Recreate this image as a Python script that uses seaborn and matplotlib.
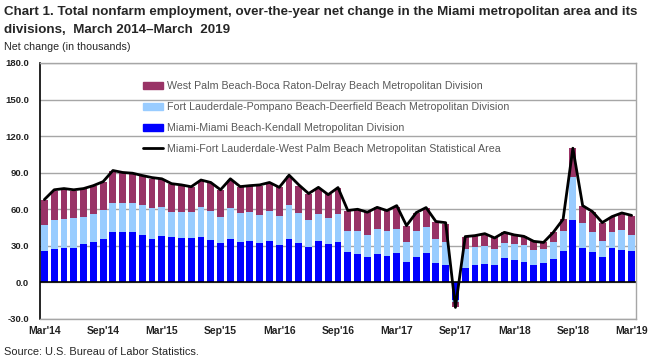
import numpy as np
import pandas as pd
import matplotlib
matplotlib.use("Agg")
import matplotlib.pyplot as plt
import seaborn as sns
from matplotlib import font_manager
from matplotlib.patches import Patch
from matplotlib.lines import Line2D

months = pd.date_range("2014-03-01", "2019-03-01", freq="MS")
tick_labels = ["Mar'14", "Sep'14", "Mar'15", "Sep'15", "Mar'16", "Sep'16",
               "Mar'17", "Sep'17", "Mar'18", "Sep'18", "Mar'19"]

miami = [25.5, 27.7, 28.5, 28.5, 31.8, 33.4, 35.9, 41.6, 41.6, 41.6, 39.2,
         35.9, 38.4, 37.6, 36.7, 36.7, 37.6, 35.1, 32.6, 35.9, 33.4, 34.2,
         32.6, 34.2, 31.0, 35.9, 32.6, 29.3, 34.2, 31.8, 33.4, 25.2, 23.6,
         21.1, 23.6, 21.9, 24.4, 17.0, 21.1, 24.4, 16.2, 14.6, -14.5, 12.1,
         14.0, 15.4, 14.0, 19.8, 18.1, 16.4, 14.6, 15.6, 18.9, 25.5, 51.0,
         28.5, 25.2, 21.1, 28.5, 26.9, 26.0]
ftl = [21.9, 23.8, 23.8, 24.7, 22.2, 23.1, 23.9, 23.9, 23.9, 23.9, 24.7,
       25.5, 23.8, 20.5, 21.4, 21.4, 24.6, 23.8, 21.4, 25.5, 23.9, 23.9,
       23.0, 24.7, 23.8, 28.0, 24.7, 22.2, 22.3, 21.4, 23.1, 17.3, 18.9,
       18.1, 20.5, 20.6, 19.7, 16.4, 21.4, 21.4, 19.7, 18.8, -1.5, 15.6,
       14.8, 14.7, 13.2, 12.3, 13.1, 14.0, 11.7, 11.6, 14.0, 16.4, 35.3,
       20.6, 16.5, 13.1, 13.2, 16.4, 13.2]
wpb = [20.6, 23.8, 24.7, 22.1, 23.0, 22.9, 22.9, 26.3, 24.7, 24.1, 23.8,
       23.6, 22.8, 22.7, 21.3, 20.5, 21.4, 23.0, 22.1, 23.0, 21.3, 21.3,
       23.8, 22.5, 23.2, 23.8, 22.1, 21.4, 20.5, 19.7, 21.3, 16.4, 17.3,
       18.9, 17.5, 16.4, 18.1, 13.2, 14.8, 15.6, 14.0, 14.8, -4.5, 9.9,
       9.6, 9.6, 9.8, 9.0, 8.0, 7.4, 7.4, 5.7, 8.2, 9.9, 23.8,
       13.9, 16.4, 14.9, 12.3, 13.2, 15.6]
total = [68.0, 76.0, 77.0, 76.0, 77.0, 79.4, 82.7, 91.8, 90.2, 89.6, 87.7,
         86.0, 85.0, 81.0, 80.0, 78.5, 84.0, 82.0, 76.0, 85.0, 78.6, 79.4,
         80.0, 82.0, 78.0, 88.0, 80.0, 72.9, 78.0, 72.0, 77.8, 59.0, 60.0,
         57.6, 61.6, 58.9, 63.0, 46.6, 57.3, 61.4, 50.0, 49.0, -20.5, 37.6,
         38.4, 40.0, 36.5, 41.1, 39.0, 37.8, 33.7, 32.8, 41.1, 51.8, 110.1,
         63.0, 58.1, 49.1, 54.0, 57.0, 55.0]

names = ["Miami-Miami Beach-Kendall Metropolitan Division",
         "Fort Lauderdale-Pompano Beach-Deerfield Beach Metropolitan Division",
         "West Palm Beach-Boca Raton-Delray Beach Metropolitan Division",
         "Miami-Fort Lauderdale-West Palm Beach Metropolitan Statistical Area"]
colors = ["#0000FF", "#99CCFF", "#993366"]

sns.set_style("white")
avail = {f.name for f in font_manager.fontManager.ttflist}
narrow = "Liberation Sans Narrow" in avail
fam = ["Liberation Sans Narrow", "DejaVu Sans"] if narrow else ["Liberation Sans", "DejaVu Sans"]
plt.rcParams["font.family"] = fam
scale = 1.0 if narrow else 0.85

fig = plt.figure(figsize=(6.57, 3.61), dpi=100)
ax = fig.add_axes([40/657, 1-319/361, 596/657, 256/361])

n = len(months)
idx = np.arange(n)
series = [np.array(miami), np.array(ftl), np.array(wpb)]
pos_base = np.zeros(n)
neg_base = np.zeros(n)
for vals, c in zip(series, colors):
    bottoms = np.where(vals >= 0, pos_base, neg_base)
    df = pd.DataFrame({"i": idx, "v": vals})
    sns.barplot(data=df, x="i", y="v", color=c, saturation=1, width=0.7,
                bottom=bottoms, ax=ax, linewidth=0, legend=False)
    pos_base = pos_base + np.where(vals >= 0, vals, 0)
    neg_base = neg_base + np.where(vals < 0, vals, 0)

sns.lineplot(x=idx, y=total, color="black", linewidth=2, ax=ax, legend=False)

ax.set_xlim(-0.45, n - 0.55)
ax.set_ylim(-30, 180)
ax.set_yticks(np.arange(-30, 181, 30))
ax.set_yticklabels([f"{v:.1f}" for v in np.arange(-30, 181, 30)],
                   fontsize=8*scale, fontweight="bold", color="#222222")
ax.set_xticks(idx[::6])
ax.set_xticklabels(tick_labels, fontsize=8.8*scale, fontweight="bold", color="#222222")
ax.tick_params(axis="y", length=0, pad=8)
ax.tick_params(axis="x", length=0, pad=5)
ax.set_xlabel("")
ax.set_ylabel("")
ax.grid(axis="y", color="#A6A6A6", linewidth=1)
ax.set_axisbelow(True)
ax.axhline(0, color="black", linewidth=1.2, zorder=1.5)
for s in ["top", "right", "bottom"]:
    ax.spines[s].set_color("#A6A6A6")
    ax.spines[s].set_linewidth(1)
ax.spines["left"].set_color("black")
ax.spines["left"].set_linewidth(1.2)

handles = [Patch(color=colors[2]), Patch(color=colors[1]), Patch(color=colors[0]),
           Line2D([0], [0], color="black", linewidth=2)]
labels = [names[2], names[1], names[0], names[3]]
leg = ax.legend(handles, labels, loc="upper left", bbox_to_anchor=(0.165, 0.945),
                frameon=False, fontsize=9.0*scale, labelcolor="#595959",
                handlelength=1.9, handleheight=0.7, labelspacing=1.02,
                handletextpad=0.4, borderaxespad=0)

fig.text(4/657, 1-12/361, "Chart 1. Total nonfarm employment, over-the-year net change in the Miami metropolitan area and its",
         ha="left", va="center", fontsize=11.3*scale, fontweight="bold")
fig.text(4/657, 1-30/361, "divisions,  March 2014\u2013March  2019",
         ha="left", va="center", fontsize=11.3*scale, fontweight="bold")
fig.text(4/657, 1-47/361, "Net change (in thousands)", ha="left", va="center", fontsize=9*scale)
fig.text(4/657, 1-352/361, "Source: U.S. Bureau of Labor Statistics.", ha="left", va="center", fontsize=9.3*scale)

fig.savefig("out.png", dpi=100)
